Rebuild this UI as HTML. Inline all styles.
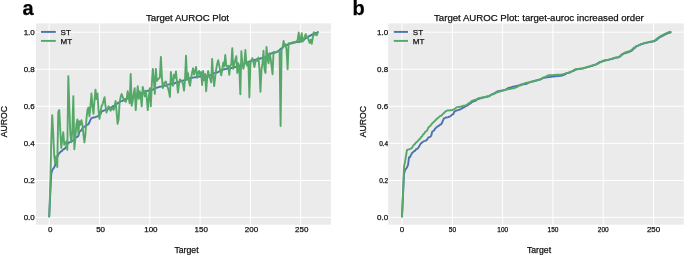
<!DOCTYPE html>
<html><head><meta charset="utf-8"><title>Target AUROC Plot</title>
<style>
html,body{margin:0;padding:0;background:#fff;}
svg{display:block;will-change:transform;opacity:0.999}
text{font-family:"Liberation Sans",Arial,sans-serif;fill:#111;stroke:#111;stroke-width:0.25px}
.g{stroke:#fff;stroke-width:1}
.t{font-size:8px}
.ts{font-size:6.5px}
.l{font-size:8.7px}
.ti{font-size:9.65px}
.p{font-size:20px;font-weight:bold;fill:#000}
</style></head><body>
<svg width="685" height="255" viewBox="0 0 685 255">
<rect width="685" height="255" fill="#fff"/>
<rect x="36.0" y="23.4" width="295.0" height="201.29999999999998" fill="#ebebeb"/>
<line x1="49.20" x2="49.20" y1="23.4" y2="224.7" class="g"/>
<line x1="36.0" x2="331.0" y1="217.40" y2="217.40" class="g"/>
<line x1="99.50" x2="99.50" y1="23.4" y2="224.7" class="g"/>
<line x1="36.0" x2="331.0" y1="180.36" y2="180.36" class="g"/>
<line x1="149.80" x2="149.80" y1="23.4" y2="224.7" class="g"/>
<line x1="36.0" x2="331.0" y1="143.32" y2="143.32" class="g"/>
<line x1="200.10" x2="200.10" y1="23.4" y2="224.7" class="g"/>
<line x1="36.0" x2="331.0" y1="106.28" y2="106.28" class="g"/>
<line x1="250.40" x2="250.40" y1="23.4" y2="224.7" class="g"/>
<line x1="36.0" x2="331.0" y1="69.24" y2="69.24" class="g"/>
<line x1="300.70" x2="300.70" y1="23.4" y2="224.7" class="g"/>
<line x1="36.0" x2="331.0" y1="32.20" y2="32.20" class="g"/>
<polyline points="49.20,216.47 50.21,195.18 51.21,173.88 52.22,170.17 53.22,168.78 54.23,167.40 55.24,164.99 56.24,157.21 57.25,157.21 58.25,154.93 59.26,153.00 60.27,152.22 61.27,151.06 62.28,150.73 63.28,149.24 64.29,149.02 65.30,147.84 66.30,146.60 67.31,144.48 68.31,143.25 69.32,142.28 70.33,141.77 71.33,141.18 72.34,140.94 73.34,140.49 74.35,139.52 75.36,137.61 76.36,137.22 77.37,136.91 78.37,135.94 79.38,131.68 80.39,130.99 81.39,130.19 82.40,128.60 83.40,127.63 84.41,126.61 85.42,126.10 86.42,125.41 87.43,124.60 88.43,124.28 89.44,122.28 90.45,119.73 91.45,118.08 92.46,117.88 93.46,117.44 94.47,117.34 95.48,117.06 96.48,116.57 97.49,116.37 98.49,115.37 99.50,114.57 100.51,114.12 101.51,111.60 102.52,111.15 103.52,110.72 104.53,110.23 105.54,110.09 106.54,109.54 107.55,109.32 108.55,108.73 109.56,107.99 110.57,107.76 111.57,107.22 112.58,106.38 113.58,105.84 114.59,105.61 115.60,104.70 116.60,104.01 117.61,103.44 118.61,102.51 119.62,102.00 120.63,101.27 121.63,101.08 122.64,100.83 123.64,99.94 124.65,99.44 125.66,99.17 126.66,98.50 127.67,98.31 128.67,98.05 129.68,97.80 130.69,97.51 131.69,97.29 132.70,97.03 133.70,96.89 134.71,96.77 135.72,96.38 136.72,96.01 137.73,95.26 138.73,94.72 139.74,94.21 140.75,93.99 141.75,93.03 142.76,92.52 143.76,91.90 144.77,91.42 145.78,91.28 146.78,90.93 147.79,90.69 148.79,90.64 149.80,90.39 150.81,90.24 151.81,90.02 152.82,89.53 153.82,89.17 154.83,88.40 155.84,87.84 156.84,87.74 157.85,87.36 158.85,87.08 159.86,86.68 160.87,86.58 161.87,86.49 162.88,86.12 163.88,85.83 164.89,85.76 165.90,85.43 166.90,85.10 167.91,84.71 168.91,84.40 169.92,84.30 170.93,84.22 171.93,84.12 172.94,84.01 173.94,83.75 174.95,83.06 175.96,82.60 176.96,82.30 177.97,81.88 178.97,81.78 179.98,81.60 180.99,81.29 181.99,80.85 183.00,80.54 184.00,80.47 185.01,80.05 186.02,79.89 187.02,79.47 188.03,79.23 189.03,78.70 190.04,78.23 191.05,77.87 192.05,77.70 193.06,77.58 194.06,77.40 195.07,77.22 196.08,77.14 197.08,77.03 198.09,76.78 199.09,76.57 200.10,76.53 201.11,76.50 202.11,76.31 203.12,76.20 204.12,76.14 205.13,76.08 206.14,75.93 207.14,75.88 208.15,75.77 209.15,75.60 210.16,75.09 211.17,74.86 212.17,74.48 213.18,73.86 214.18,73.07 215.19,72.84 216.20,72.72 217.20,72.55 218.21,71.94 219.21,71.45 220.22,70.98 221.23,70.69 222.23,69.93 223.24,69.46 224.24,69.31 225.25,69.15 226.26,68.93 227.26,68.73 228.27,68.64 229.27,68.59 230.28,68.43 231.29,68.01 232.29,67.82 233.30,67.32 234.30,67.21 235.31,67.03 236.32,66.64 237.32,66.48 238.33,66.12 239.33,65.81 240.34,65.31 241.35,65.13 242.35,64.94 243.36,64.34 244.36,63.71 245.37,62.99 246.38,62.25 247.38,62.15 248.39,61.90 249.39,61.56 250.40,61.21 251.41,60.85 252.41,60.62 253.42,60.27 254.42,60.02 255.43,59.82 256.44,59.58 257.44,59.34 258.45,59.13 259.45,58.80 260.46,58.47 261.47,58.23 262.47,57.74 263.48,57.61 264.48,57.49 265.49,57.38 266.50,56.73 267.50,56.54 268.51,55.15 269.51,53.92 270.52,53.74 271.53,53.35 272.53,53.04 273.54,52.92 274.54,52.49 275.55,52.27 276.56,51.77 277.56,51.44 278.57,50.97 279.57,50.01 280.58,48.84 281.59,48.17 282.59,47.41 283.60,46.36 284.60,46.06 285.61,45.54 286.62,44.92 287.62,44.80 288.63,44.19 289.63,43.91 290.64,43.51 291.65,43.35 292.65,42.98 293.66,42.73 294.66,42.61 295.67,42.28 296.68,42.03 297.68,41.97 298.69,41.82 299.69,41.59 300.70,41.29 301.71,41.25 302.71,40.40 303.72,39.95 304.72,38.96 305.73,38.30 306.74,37.46 307.74,36.91 308.75,36.31 309.75,35.96 310.76,35.36 311.77,34.72 312.77,34.25 313.78,33.83 314.78,33.44 315.79,32.97 316.80,32.76 317.80,32.39" fill="none" stroke="#4c72b0" stroke-width="1.9" stroke-linejoin="round" stroke-linecap="round"/>
<polyline points="49.20,216.47 50.21,189.62 51.21,143.32 52.22,115.17 53.22,134.06 54.23,156.28 55.24,162.58 56.24,156.28 57.25,167.03 58.25,111.84 59.26,109.98 60.27,130.36 61.27,147.95 62.28,139.62 63.28,132.21 64.29,144.80 65.30,143.32 66.30,141.47 67.31,149.80 68.31,76.09 69.32,106.28 70.33,134.06 71.33,142.39 72.34,130.36 73.34,96.09 74.35,149.25 75.36,137.76 76.36,124.80 77.37,119.43 78.37,133.50 79.38,121.28 80.39,124.80 81.39,120.17 82.40,124.80 83.40,134.06 84.41,142.39 85.42,134.06 86.42,119.24 87.43,109.98 88.43,107.58 89.44,116.28 90.45,106.28 91.45,93.50 92.46,106.28 93.46,113.87 94.47,100.72 95.48,89.61 96.48,99.06 97.49,93.50 98.49,109.98 99.50,118.87 100.51,111.84 101.51,106.28 102.52,104.43 103.52,100.72 104.53,97.21 105.54,106.28 106.54,112.58 107.55,109.06 108.55,106.28 109.56,108.13 110.57,110.72 111.57,109.06 112.58,107.58 113.58,109.98 114.59,106.28 115.60,100.91 116.60,111.84 117.61,123.87 118.61,119.24 119.62,102.58 120.63,97.02 121.63,94.06 122.64,97.02 123.64,98.87 124.65,100.72 125.66,101.84 126.66,98.87 127.67,91.28 128.67,97.02 129.68,103.32 130.69,74.06 131.69,105.72 132.70,100.72 133.70,93.32 134.71,88.13 135.72,110.17 136.72,97.02 137.73,86.28 138.73,98.87 139.74,91.28 140.75,97.02 141.75,106.28 142.76,86.83 143.76,91.46 144.77,96.28 145.78,90.72 146.78,98.87 147.79,110.17 148.79,97.02 149.80,88.13 150.81,106.28 151.81,84.06 152.82,68.87 153.82,80.35 154.83,93.87 155.84,68.87 156.84,80.91 157.85,79.43 158.85,78.50 159.86,77.57 160.87,57.02 161.87,76.65 162.88,88.13 163.88,84.06 164.89,82.20 165.90,81.46 166.90,85.91 167.91,87.76 168.91,91.46 169.92,97.02 170.93,72.02 171.93,80.35 172.94,85.91 173.94,74.61 174.95,77.76 175.96,71.46 176.96,82.20 177.97,92.58 178.97,84.06 179.98,79.43 180.99,80.35 181.99,81.28 183.00,84.06 184.00,90.72 185.01,79.43 186.02,55.72 187.02,79.06 188.03,73.31 189.03,82.20 190.04,85.72 191.05,78.50 192.05,72.94 193.06,68.31 194.06,74.61 195.07,71.09 196.08,67.02 197.08,77.76 198.09,72.94 199.09,70.91 200.10,74.80 201.11,72.02 202.11,84.98 203.12,70.91 204.12,80.35 205.13,74.06 206.14,91.28 207.14,78.50 208.15,70.91 209.15,76.65 210.16,78.50 211.17,82.39 212.17,58.87 213.18,76.65 214.18,86.09 215.19,76.65 216.20,69.24 217.20,63.68 218.21,60.17 219.21,65.54 220.22,70.72 221.23,75.35 222.23,69.24 223.24,62.57 224.24,66.46 225.25,54.98 226.26,65.54 227.26,67.02 228.27,65.72 229.27,74.80 230.28,65.54 231.29,64.61 232.29,48.13 233.30,68.87 234.30,63.68 235.31,59.98 236.32,56.28 237.32,72.94 238.33,63.31 239.33,69.24 240.34,94.24 241.35,51.28 242.35,63.68 243.36,68.87 244.36,63.68 245.37,49.98 246.38,63.68 247.38,65.72 248.39,62.57 249.39,97.39 250.40,63.68 251.41,59.98 252.41,58.13 253.42,61.83 254.42,67.02 255.43,61.83 256.44,58.87 257.44,60.72 258.45,57.57 259.45,69.24 260.46,91.83 261.47,69.24 262.47,63.68 263.48,50.72 264.48,69.24 265.49,72.94 266.50,46.83 267.50,58.13 268.51,63.31 269.51,53.13 270.52,58.13 271.53,65.54 272.53,74.24 273.54,52.02 274.54,52.94 275.55,52.57 276.56,52.02 277.56,51.65 278.57,51.28 279.57,50.72 280.58,126.10 281.59,49.79 282.59,47.94 283.60,40.90 284.60,46.28 285.61,44.24 286.62,50.72 287.62,69.24 288.63,43.31 289.63,43.35 290.64,42.96 291.65,42.80 292.65,42.43 293.66,42.17 294.66,42.06 295.67,41.73 296.68,41.47 297.68,39.61 298.69,32.57 299.69,42.39 300.70,39.61 301.71,33.13 302.71,41.46 303.72,39.61 304.72,36.83 305.73,34.05 306.74,37.76 307.74,36.83 308.75,40.53 309.75,42.94 310.76,39.61 311.77,43.87 312.77,37.76 313.78,32.20 314.78,34.98 315.79,33.13 316.80,35.35 317.80,32.01" fill="none" stroke="#55a868" stroke-width="1.9" stroke-linejoin="round" stroke-linecap="round"/>
<text x="50.30" y="232.3" text-anchor="middle" class="t">0</text>
<text x="34.80" y="220.10" text-anchor="end" class="t">0.0</text>
<text x="100.60" y="232.3" text-anchor="middle" class="t">50</text>
<text x="34.80" y="183.06" text-anchor="end" class="t">0.2</text>
<text x="150.90" y="232.3" text-anchor="middle" class="t">100</text>
<text x="34.80" y="146.02" text-anchor="end" class="t">0.4</text>
<text x="201.20" y="232.3" text-anchor="middle" class="t">150</text>
<text x="34.80" y="108.98" text-anchor="end" class="t">0.6</text>
<text x="251.50" y="232.3" text-anchor="middle" class="t">200</text>
<text x="34.80" y="71.94" text-anchor="end" class="t">0.8</text>
<text x="301.80" y="232.3" text-anchor="middle" class="t">250</text>
<text x="34.80" y="34.90" text-anchor="end" class="t">1.0</text>
<line x1="41.0" x2="55.8" y1="31.9" y2="31.9" stroke="#4c72b0" stroke-width="1.9"/>
<line x1="41.0" x2="55.8" y1="40.9" y2="40.9" stroke="#55a868" stroke-width="1.9"/>
<text x="60.6" y="34.6" class="t">ST</text>
<text x="60.6" y="43.6" class="t">MT</text>
<text x="187.5" y="21.1" text-anchor="middle" class="ti">Target AUROC Plot</text>
<text x="186.5" y="252.7" text-anchor="middle" class="l">Target</text>
<text transform="translate(6.600000000000001,121.6) rotate(-90)" text-anchor="middle" class="l">AUROC</text>
<text x="22.4" y="14.8" class="p">a</text>
<rect x="388.2" y="23.4" width="295.59999999999997" height="201.29999999999998" fill="#ebebeb"/>
<line x1="402.00" x2="402.00" y1="23.4" y2="224.7" class="g"/>
<line x1="388.2" x2="683.8" y1="217.40" y2="217.40" class="g"/>
<line x1="452.30" x2="452.30" y1="23.4" y2="224.7" class="g"/>
<line x1="388.2" x2="683.8" y1="180.36" y2="180.36" class="g"/>
<line x1="502.60" x2="502.60" y1="23.4" y2="224.7" class="g"/>
<line x1="388.2" x2="683.8" y1="143.32" y2="143.32" class="g"/>
<line x1="552.90" x2="552.90" y1="23.4" y2="224.7" class="g"/>
<line x1="388.2" x2="683.8" y1="106.28" y2="106.28" class="g"/>
<line x1="603.20" x2="603.20" y1="23.4" y2="224.7" class="g"/>
<line x1="388.2" x2="683.8" y1="69.24" y2="69.24" class="g"/>
<line x1="653.50" x2="653.50" y1="23.4" y2="224.7" class="g"/>
<line x1="388.2" x2="683.8" y1="32.20" y2="32.20" class="g"/>
<polyline points="402.00,216.47 403.01,195.18 404.01,173.88 405.02,170.17 406.02,168.78 407.03,167.40 408.04,164.99 409.04,157.21 410.05,157.21 411.05,154.93 412.06,153.00 413.07,152.22 414.07,151.06 415.08,150.73 416.08,149.24 417.09,149.02 418.10,147.84 419.10,146.60 420.11,144.48 421.11,143.25 422.12,142.28 423.13,141.77 424.13,141.18 425.14,140.94 426.14,140.49 427.15,139.52 428.16,137.61 429.16,137.22 430.17,136.91 431.17,135.94 432.18,131.68 433.19,130.99 434.19,130.19 435.20,128.60 436.20,127.63 437.21,126.61 438.22,126.10 439.22,125.41 440.23,124.60 441.23,124.28 442.24,122.28 443.25,119.73 444.25,118.08 445.26,117.88 446.26,117.44 447.27,117.34 448.28,117.06 449.28,116.57 450.29,116.37 451.29,115.37 452.30,114.57 453.31,114.12 454.31,111.60 455.32,111.15 456.32,110.72 457.33,110.23 458.34,110.09 459.34,109.54 460.35,109.32 461.35,108.73 462.36,107.99 463.37,107.76 464.37,107.22 465.38,106.38 466.38,105.84 467.39,105.61 468.40,104.70 469.40,104.01 470.41,103.44 471.41,102.51 472.42,102.00 473.43,101.27 474.43,101.08 475.44,100.83 476.44,99.94 477.45,99.44 478.46,99.17 479.46,98.50 480.47,98.31 481.47,98.05 482.48,97.80 483.49,97.51 484.49,97.29 485.50,97.03 486.50,96.89 487.51,96.77 488.52,96.38 489.52,96.01 490.53,95.26 491.53,94.72 492.54,94.21 493.55,93.99 494.55,93.03 495.56,92.52 496.56,91.90 497.57,91.42 498.58,91.28 499.58,90.93 500.59,90.69 501.59,90.64 502.60,90.39 503.61,90.24 504.61,90.02 505.62,89.53 506.62,89.17 507.63,88.40 508.64,87.84 509.64,87.74 510.65,87.36 511.65,87.08 512.66,86.68 513.67,86.58 514.67,86.49 515.68,86.12 516.68,85.83 517.69,85.76 518.70,85.43 519.70,85.10 520.71,84.71 521.71,84.40 522.72,84.30 523.73,84.22 524.73,84.12 525.74,84.01 526.74,83.75 527.75,83.06 528.76,82.60 529.76,82.30 530.77,81.88 531.77,81.78 532.78,81.60 533.79,81.29 534.79,80.85 535.80,80.54 536.80,80.47 537.81,80.05 538.82,79.89 539.82,79.47 540.83,79.23 541.83,78.70 542.84,78.23 543.85,77.87 544.85,77.70 545.86,77.58 546.86,77.40 547.87,77.22 548.88,77.14 549.88,77.03 550.89,76.78 551.89,76.57 552.90,76.53 553.91,76.50 554.91,76.31 555.92,76.20 556.92,76.14 557.93,76.08 558.94,75.93 559.94,75.88 560.95,75.77 561.95,75.60 562.96,75.09 563.97,74.86 564.97,74.48 565.98,73.86 566.98,73.07 567.99,72.84 569.00,72.72 570.00,72.55 571.01,71.94 572.01,71.45 573.02,70.98 574.03,70.69 575.03,69.93 576.04,69.46 577.04,69.31 578.05,69.15 579.06,68.93 580.06,68.73 581.07,68.64 582.07,68.59 583.08,68.43 584.09,68.01 585.09,67.82 586.10,67.32 587.10,67.21 588.11,67.03 589.12,66.64 590.12,66.48 591.13,66.12 592.13,65.81 593.14,65.31 594.15,65.13 595.15,64.94 596.16,64.34 597.16,63.71 598.17,62.99 599.18,62.25 600.18,62.15 601.19,61.90 602.19,61.56 603.20,61.21 604.21,60.85 605.21,60.62 606.22,60.27 607.22,60.02 608.23,59.82 609.24,59.58 610.24,59.34 611.25,59.13 612.25,58.80 613.26,58.47 614.27,58.23 615.27,57.74 616.28,57.61 617.28,57.49 618.29,57.38 619.30,56.73 620.30,56.54 621.31,55.15 622.31,53.92 623.32,53.74 624.33,53.35 625.33,53.04 626.34,52.92 627.34,52.49 628.35,52.27 629.36,51.77 630.36,51.44 631.37,50.97 632.37,50.01 633.38,48.84 634.39,48.17 635.39,47.41 636.40,46.36 637.40,46.06 638.41,45.54 639.42,44.92 640.42,44.80 641.43,44.19 642.43,43.91 643.44,43.51 644.45,43.35 645.45,42.98 646.46,42.73 647.46,42.61 648.47,42.28 649.48,42.03 650.48,41.97 651.49,41.82 652.49,41.59 653.50,41.29 654.51,41.25 655.51,40.40 656.52,39.95 657.52,38.96 658.53,38.30 659.54,37.46 660.54,36.91 661.55,36.31 662.55,35.96 663.56,35.36 664.57,34.72 665.57,34.25 666.58,33.83 667.58,33.44 668.59,32.97 669.60,32.76 670.60,32.39" fill="none" stroke="#4c72b0" stroke-width="1.9" stroke-linejoin="round" stroke-linecap="round"/>
<polyline points="402.00,216.47 403.01,193.32 404.01,166.93 405.02,161.84 406.02,155.91 407.03,149.99 408.04,149.62 409.04,149.40 410.05,148.93 411.05,148.65 412.06,147.75 413.07,146.04 414.07,144.54 415.08,143.93 416.08,142.43 417.09,141.84 418.10,140.69 419.10,139.45 420.11,138.66 421.11,137.01 422.12,136.37 423.13,134.39 424.13,133.77 425.14,131.99 426.14,131.28 427.15,130.43 428.16,127.98 429.16,126.79 430.17,126.00 431.17,124.83 432.18,123.38 433.19,122.35 434.19,121.78 435.20,120.44 436.20,119.49 437.21,118.58 438.22,117.84 439.22,116.81 440.23,116.03 441.23,115.71 442.24,114.76 443.25,113.50 444.25,112.78 445.26,111.57 446.26,111.02 447.27,110.50 448.28,110.45 449.28,110.40 450.29,110.31 451.29,110.24 452.30,110.12 453.31,109.42 454.31,109.16 455.32,108.53 456.32,107.37 457.33,107.13 458.34,107.06 459.34,106.90 460.35,106.81 461.35,106.38 462.36,106.06 463.37,105.79 464.37,105.57 465.38,105.31 466.38,104.99 467.39,104.38 468.40,103.44 469.40,102.78 470.41,102.55 471.41,101.11 472.42,100.73 473.43,100.30 474.43,100.00 475.44,99.75 476.44,99.42 477.45,98.80 478.46,98.24 479.46,97.99 480.47,97.94 481.47,97.56 482.48,97.40 483.49,97.11 484.49,97.05 485.50,96.73 486.50,96.52 487.51,96.28 488.52,96.03 489.52,95.69 490.53,95.20 491.53,94.40 492.54,94.23 493.55,93.85 494.55,93.71 495.56,92.97 496.56,92.45 497.57,92.25 498.58,91.93 499.58,91.57 500.59,91.21 501.59,91.07 502.60,90.61 503.61,90.19 504.61,90.08 505.62,89.75 506.62,89.54 507.63,89.31 508.64,89.15 509.64,89.06 510.65,88.80 511.65,88.58 512.66,88.42 513.67,88.30 514.67,87.97 515.68,87.58 516.68,87.11 517.69,86.63 518.70,86.00 519.70,85.51 520.71,85.32 521.71,84.85 522.72,84.44 523.73,83.85 524.73,83.19 525.74,82.97 526.74,82.79 527.75,82.65 528.76,82.41 529.76,82.31 530.77,81.71 531.77,81.38 532.78,81.14 533.79,80.96 534.79,80.66 535.80,80.53 536.80,80.37 537.81,80.13 538.82,79.87 539.82,79.49 540.83,79.05 541.83,78.96 542.84,77.68 543.85,77.31 544.85,77.15 545.86,76.70 546.86,76.23 547.87,75.42 548.88,75.29 549.88,75.21 550.89,75.20 551.89,75.17 552.90,75.10 553.91,75.05 554.91,75.02 555.92,74.92 556.92,74.77 557.93,74.74 558.94,74.70 559.94,74.68 560.95,74.62 561.95,74.53 562.96,74.41 563.97,73.95 564.97,73.70 565.98,73.36 566.98,73.17 567.99,72.83 569.00,72.34 570.00,72.02 571.01,71.76 572.01,71.22 573.02,70.67 574.03,70.05 575.03,69.41 576.04,69.25 577.04,69.13 578.05,69.03 579.06,68.89 580.06,68.74 581.07,68.59 582.07,68.48 583.08,68.25 584.09,68.05 585.09,67.78 586.10,67.40 587.10,66.97 588.11,66.77 589.12,66.45 590.12,66.15 591.13,65.71 592.13,65.64 593.14,65.56 594.15,65.00 595.15,64.75 596.16,64.12 597.16,63.79 598.17,63.53 599.18,63.12 600.18,62.27 601.19,61.71 602.19,61.05 603.20,60.65 604.21,60.36 605.21,60.06 606.22,59.89 607.22,59.83 608.23,59.64 609.24,59.39 610.24,59.10 611.25,58.87 612.25,58.59 613.26,58.28 614.27,57.94 615.27,57.63 616.28,57.54 617.28,57.39 618.29,57.28 619.30,56.55 620.30,55.73 621.31,55.31 622.31,54.69 623.32,53.86 624.33,53.01 625.33,52.30 626.34,52.18 627.34,51.75 628.35,51.53 629.36,51.03 630.36,50.70 631.37,50.23 632.37,49.27 633.38,48.10 634.39,47.43 635.39,46.67 636.40,46.15 637.40,45.88 638.41,45.39 639.42,45.03 640.42,44.34 641.43,43.84 642.43,43.64 643.44,43.33 644.45,43.11 645.45,42.98 646.46,42.59 647.46,42.34 648.47,42.17 649.48,41.84 650.48,41.55 651.49,41.45 652.49,41.21 653.50,40.97 654.51,40.91 655.51,39.66 656.52,39.21 657.52,38.22 658.53,37.56 659.54,36.72 660.54,36.17 661.55,35.57 662.55,35.22 663.56,34.62 664.57,33.98 665.57,33.51 666.58,33.09 667.58,32.70 668.59,32.23 669.60,32.02 670.60,31.64" fill="none" stroke="#55a868" stroke-width="1.9" stroke-linejoin="round" stroke-linecap="round"/>
<text x="402.10" y="232.3" text-anchor="middle" class="t">0</text>
<text x="388.20" y="220.10" text-anchor="end" class="t">0.0</text>
<text x="452.40" y="232.3" text-anchor="middle" class="ts">50</text>
<text x="388.20" y="183.06" text-anchor="end" class="ts">0.2</text>
<text x="502.70" y="232.3" text-anchor="middle" class="ts">100</text>
<text x="388.20" y="146.02" text-anchor="end" class="ts">0.4</text>
<text x="553.00" y="232.3" text-anchor="middle" class="ts">150</text>
<text x="388.20" y="108.98" text-anchor="end" class="t">0.6</text>
<text x="603.30" y="232.3" text-anchor="middle" class="ts">200</text>
<text x="388.20" y="71.94" text-anchor="end" class="t">0.8</text>
<text x="653.60" y="232.3" text-anchor="middle" class="t">250</text>
<text x="388.20" y="34.90" text-anchor="end" class="t">1.0</text>
<line x1="393.8" x2="408.0" y1="31.9" y2="31.9" stroke="#4c72b0" stroke-width="1.9"/>
<line x1="393.8" x2="408.0" y1="40.9" y2="40.9" stroke="#55a868" stroke-width="1.9"/>
<text x="412.8" y="34.6" class="t">ST</text>
<text x="412.8" y="43.6" class="t">MT</text>
<text x="538.9" y="21.1" text-anchor="middle" class="ti">Target AUROC Plot: target-auroc increased order</text>
<text x="539.0" y="252.7" text-anchor="middle" class="l">Target</text>
<text transform="translate(366.2,121.6) rotate(-90)" text-anchor="middle" class="l">AUROC</text>
<text x="352.6" y="14.8" class="p">b</text>
</svg>
</body></html>
